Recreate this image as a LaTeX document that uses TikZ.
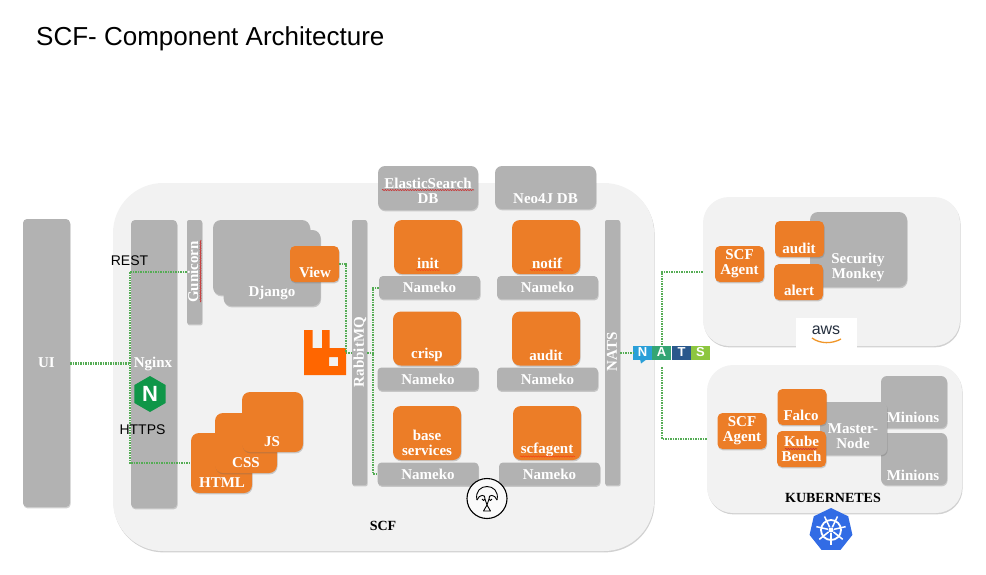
\documentclass[tikz,border=0pt]{standalone}
\usepackage{fontspec}
\setmainfont{Liberation Serif}
\setsansfont{Liberation Sans}
\usepackage{tikz}
\usetikzlibrary{positioning,shapes.geometric,decorations.pathmorphing,shadows}
\definecolor{panelcolor}{RGB}{242,242,242}
\definecolor{barcolor}{RGB}{178,178,178}
\definecolor{svccolor}{RGB}{236,125,39}
\definecolor{linkcolor}{RGB}{84,172,84}
\definecolor{rabbitcolor}{RGB}{255,102,0}
\definecolor{nginxcolor}{RGB}{15,150,72}
\definecolor{kubecolor}{RGB}{50,108,229}
\definecolor{squigglecolor}{RGB}{200,50,50}
\definecolor{natsncolor}{RGB}{42,159,216}
\definecolor{natsacolor}{RGB}{52,165,116}
\definecolor{natstcolor}{RGB}{42,88,140}
\definecolor{natsscolor}{RGB}{141,198,63}
\definecolor{awscolor}{RGB}{37,47,62}
\definecolor{smilecolor}{RGB}{240,150,40}
\newcommand{\boxfont}{\bfseries\fontsize{15}{15}\selectfont}

\begin{document}
\begin{tikzpicture}[
    x=1pt, y=-1pt,
    softshadow/.style={drop shadow={shadow xshift=0.6pt, shadow yshift=-1.4pt, opacity=0.3, fill=black!60}},
    panel/.style={fill=panelcolor, rounded corners=26pt, inner sep=0pt, softshadow},
    bar/.style={fill=barcolor, rounded corners=4pt, inner sep=0pt, softshadow, text=white, font=\boxfont, align=center},
    svc/.style={fill=svccolor, rounded corners=8pt, inner sep=0pt, softshadow, text=white, font=\boxfont, align=center},
    agent/.style={svc, minimum width=49pt, minimum height=36pt, rounded corners=5pt},
    service/.style={svc, minimum width=68pt, minimum height=54pt},
    nameko/.style={bar, minimum width=101pt, minimum height=23pt},
    boxtext/.style={text=white, font=\boxfont, align=center, inner sep=0pt},
    blacktext/.style={text=black, font=\bfseries\fontsize{14}{15}\selectfont, inner sep=0pt},
    sanstext/.style={text=black, font=\sffamily\fontsize{14}{16}\selectfont, inner sep=0pt},
    link/.style={linkcolor, line width=2pt, dash pattern=on 1.5pt off 1pt},
    natstile/.style={minimum width=18.6pt, minimum height=14pt, inner sep=0pt, text=white,
        font=\sffamily\bfseries\fontsize{13}{13}\selectfont},
    squiggle/.style={squigglecolor, line width=0.6pt, decorate, decoration={snake, amplitude=0.6pt, segment length=2.5pt}}
]
\useasboundingbox (0,0) rectangle (986,574);

% Title
\node[anchor=west, inner sep=0pt, font=\sffamily\fontsize{26}{30}\selectfont] (title) at (36,39) {SCF- Component Architecture};

% Panels
\node[panel, minimum width=541pt, minimum height=368pt, rounded corners=50pt] (scf) at (383.5,367) {};
\node[panel, minimum width=257pt, minimum height=149pt] (awspanel) at (831.5,271.5) {};
\node[panel, minimum width=255pt, minimum height=148pt] (kubepanel) at (834.5,439) {};

% UI and Nginx
\node[bar, minimum width=47pt, minimum height=288pt] (ui) at (46.5,363) {UI};
\node[bar, minimum width=46pt, minimum height=288pt] (nginx) at (154,364) {};
\node[boxtext] (nginxtext) at (153,364) {Nginx};
\node[regular polygon, regular polygon sides=6, shape border rotate=30, fill=nginxcolor, minimum size=36pt, inner sep=0pt, text=white,
    font=\sffamily\bfseries\fontsize{22}{22}\selectfont] (nginxlogo) at (150,394) {N};

% Gunicorn
\node[bar, minimum width=15pt, minimum height=104pt, rounded corners=2pt] (gunicorn) at (194.5,272) {};
\node[boxtext, rotate=90] (gunicorntext) at (193,272) {Gunicorn};
\draw[squiggle] (200.5,240) -- (200.5,302);

% Django
\node[bar, minimum width=97pt, minimum height=75pt, rounded corners=8pt] (djangoback) at (261.5,257.5) {};
\node[bar, minimum width=97pt, minimum height=76pt, rounded corners=8pt] (django) at (272,268) {};
\node[boxtext] (djangotext) at (272,293) {Django};
\node[agent] (view) at (314.5,264) {};
\node[boxtext] (viewtext) at (315,272) {View};

% HTML, CSS, JS
\node[svc, minimum width=61pt, minimum height=60pt] (html) at (221.5,463) {};
\node[boxtext] (htmltext) at (222,483) {HTML};
\node[svc, minimum width=62pt, minimum height=60pt] (css) at (246,443) {};
\node[boxtext] (csstext) at (246,463) {CSS};
\node[svc, minimum width=61pt, minimum height=60pt] (js) at (272.5,422) {};
\node[boxtext] (jstext) at (272,442) {JS};

% RabbitMQ
\fill[rabbitcolor, even odd rule] (304,330) -- (312.5,330) -- (312.5,348) -- (322,348) -- (322,330) -- (329.5,330)
    -- (329.5,348) -- (346,348) -- (346,375) -- (304,375) -- cycle
    (329,357) rectangle (338,366);
\node[bar, minimum width=15pt, minimum height=265pt, rounded corners=2pt] (rabbitmq) at (359.5,352.5) {};
\node[boxtext, rotate=90] (rabbittext) at (360,352) {RabbitMQ};

% Databases
\node[bar, minimum width=100pt, minimum height=44pt, rounded corners=7pt] (elastic) at (428,188) {};
\node[boxtext] (elastictext) at (428,191) {ElasticSearch\\DB};
\draw[squiggle] (382,190) -- (474,190);
\node[bar, minimum width=101pt, minimum height=43pt, rounded corners=7pt] (neo) at (545.5,187.5) {};
\node[boxtext] (neotext) at (545.5,198.5) {Neo4J DB};

% Services
\node[service] (init) at (428,247) {};
\node[boxtext] (inittext) at (428,263) {init};
\draw[squiggle, svccolor!60!red] (416,270) -- (440,270);
\node[service] (notif) at (546,247) {};
\node[boxtext] (notiftext) at (547,263) {notif};
\draw[squiggle, svccolor!60!red] (530,270) -- (563,270);
\node[service] (crisp) at (427,338.5) {};
\node[boxtext] (crisptext) at (427,355) {crisp};
\node[service] (audit) at (546,338.5) {};
\node[boxtext] (audittext) at (546,355) {audit};
\node[service] (base) at (427,433) {};
\node[boxtext] (basetext) at (427,443) {base\\services};
\node[service] (scfagent) at (547,433) {};
\node[boxtext] (scfagenttext) at (547,450) {scfagent};
\draw[squiggle, svccolor!60!red] (520,456.5) -- (575,456.5);

% Nameko
\node[nameko] (namekoa) at (429.5,287.5) {Nameko};
\node[nameko] (namekob) at (547.5,287.5) {Nameko};
\node[nameko] (namekoc) at (428,379) {Nameko};
\node[nameko] (namekod) at (547.5,379) {Nameko};
\node[nameko] (namekoe) at (428,474) {Nameko};
\node[nameko] (namekof) at (549.5,474) {Nameko};

% NATS
\node[bar, minimum width=15pt, minimum height=265pt, rounded corners=2pt] (natsbar) at (612.5,352.5) {};
\node[boxtext, rotate=90] (natstext) at (612,352) {NATS};

% Tree
\node[draw=black, line width=1.1pt, circle, fill=panelcolor!40!white, minimum size=40pt, inner sep=0pt] (tree) at (487,498.5) {};
\draw[black, line width=0.9pt, line join=round] (477,500) .. controls (473,482) and (501,482) .. (497,500);
\draw[black, line width=0.9pt, line join=round] (477,500) .. controls (479,494) and (486,494) .. (485,499)
        .. controls (485,501) and (482,501) .. (482,499)
    (497,500) .. controls (495,494) and (488,494) .. (489,499)
        .. controls (489,501) and (492,501) .. (492,499)
    (485,499) -- (487,505) -- (483.5,511) -- (490.5,511) -- (487,505) -- (489,499);

% Kubernetes side
\node[agent] (k8sagent) at (742,431) {SCF\\Agent};
\node[bar, minimum width=66pt, minimum height=52pt, rounded corners=6pt] (miniona) at (914,402) {};
\node[boxtext] (minionatext) at (913,417) {Minions};
\node[bar, minimum width=66pt, minimum height=52pt, rounded corners=6pt] (minionb) at (914,459) {};
\node[boxtext] (minionbtext) at (913,475) {Minions};
\node[bar, minimum width=67pt, minimum height=53pt, rounded corners=6pt] (master) at (853.5,428.5) {};
\node[boxtext] (mastertext) at (853,436) {Master-\\Node};
\node[agent] (falco) at (802,407) {};
\node[boxtext] (falcotext) at (801,415) {Falco};
\node[agent] (kubebench) at (801.5,449) {Kube\\Bench};
\draw[squiggle] (785,449) -- (817,449);
\node[blacktext] (kubetext) at (833,498) {KUBERNETES};
\node[regular polygon, regular polygon sides=7, fill=kubecolor, minimum size=44pt, inner sep=0pt] (kubelogo) at (831,530) {};
\draw[white, line width=1.8pt] (kubelogo.center) circle (10pt);
\foreach \spoke in {90,141.4,192.9,244.3,295.7,347.1,38.6} {
    \draw[white, line width=1.5pt] (kubelogo.center) ++(\spoke:-3pt) -- ++(\spoke:-12pt);
}
\fill[white] (kubelogo.center) circle (2.5pt);

% AWS side
\node[agent] (awsagent) at (739.5,264) {SCF\\Agent};
\node[bar, minimum width=97pt, minimum height=75pt, rounded corners=8pt] (monkey) at (858.5,249.5) {};
\node[boxtext] (monkeytext) at (858,267) {Security\\Monkey};
\node[agent] (awsaudit) at (799.5,239) {};
\node[boxtext] (awsaudittext) at (799,248) {audit};
\node[agent] (alert) at (798.5,282) {};
\node[boxtext] (alerttext) at (799,290) {alert};
\node[fill=white, minimum width=61pt, minimum height=30pt, inner sep=0pt] (awsbox) at (826.5,333) {};
\node[inner sep=0pt, text=awscolor, font=\sffamily\fontsize{16}{16}\selectfont] (awstext) at (826,330) {aws};
\draw[smilecolor, line width=1.3pt] (812,338) .. controls (820,344) and (832,344) .. (841,339);

% Connectors
\coordinate (restcorner) at (129.5,272);
\coordinate (httpscorner) at (129.5,463);
\draw[link, line width=3pt] (ui.east) -- (ui.east -| restcorner);
\draw[link] (gunicorn.west) -- (restcorner) -- (httpscorner) -- (html.west);
\node[sanstext] (rest) at (129.5,261) {REST};
\node[sanstext] (https) at (142.5,430) {HTTPS};

\coordinate (viewturn) at (345.5,264);
\draw[link] (view.east) -- (viewturn) -- (viewturn |- rabbitmq.west) -- (rabbitmq.west);
\coordinate (namekobus) at (373,352.5);
\draw[link] (rabbitmq.east) -- (namekobus);
\draw[link] (namekoa.west) -| (namekobus) |- (namekoe.west);

% NATS logo
\coordinate (natstop) at (662,345);
\coordinate (natsbottom) at (662,367);
\draw[link] (awspanel.west) -| (natstop);
\draw[link] (kubepanel.west) -| (natsbottom);
\node[natstile, fill=natsncolor] (natsn) at (642.5,352.5) {N};
\fill[natsncolor] (640,359) -- (647,359) -- (641,363.5) -- cycle;
\node[natstile, fill=natsacolor] (natsa) at (661.5,352.5) {A};
\node[natstile, fill=natstcolor] (natst) at (681.5,352.5) {T};
\node[natstile, fill=natsscolor] (natss) at (700.5,352.5) {S};
\draw[link] (natsbar.east) -- (natsn.west);

% Label
\node[blacktext] (scflabel) at (383,526) {SCF};

\end{tikzpicture}
\end{document}
